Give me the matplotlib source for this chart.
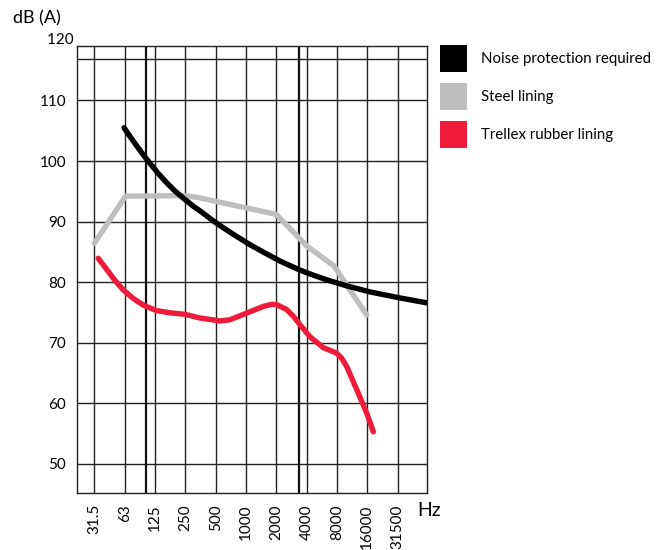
import matplotlib
matplotlib.use('Agg')
import matplotlib.pyplot as plt
from matplotlib.patches import Patch

plt.rcParams['font.family'] = ['Lato', 'DejaVu Sans']

# Octave band labels (one category per vertical grid line)
freq_labels = ['31.5', '63', '125', '250', '500', '1000', '2000',
               '4000', '8000', '16000', '31500']

# Curves: x is the position along the octave axis
# (0 = 31.5 Hz, 1 = 63 Hz, ...), y is dB (A)
required_x = [0.98, 1.20, 1.40, 1.62, 1.84, 2.10, 2.39, 2.65, 2.93, 3.25,
              3.59, 3.90, 4.25, 4.65, 5.13, 5.60, 6.12, 6.78, 7.20, 7.66,
              8.32, 9.09, 10.08, 10.96]
required_db = [105.5, 103.9, 102.5, 101.0, 99.6, 98.0, 96.4, 95.1, 93.9, 92.6,
               91.4, 90.2, 89.0, 87.7, 86.2, 84.9, 83.5, 82.0, 81.2, 80.4,
               79.4, 78.4, 77.4, 76.6]

steel_x = [0.0, 1.03, 2.95, 3.4, 6.0, 7.0, 7.9, 8.98]
steel_db = [86.4, 94.2, 94.3, 94.0, 91.2, 86.0, 82.7, 74.6]

rubber_x = [0.13, 0.41, 0.68, 0.96, 1.29, 1.62, 2.06, 2.50, 2.99, 3.48,
            4.14, 4.47, 5.02, 5.57, 5.85, 6.01, 6.34, 6.56, 6.78, 7.11,
            7.55, 7.99, 8.15, 8.32, 8.65, 8.98, 9.20]
rubber_db = [83.95, 82.1, 80.3, 78.7, 77.3, 76.2, 75.3, 74.95, 74.7, 74.1,
             73.6, 73.8, 74.9, 76.0, 76.35, 76.3, 75.5, 74.4, 73.0, 71.0,
             69.2, 68.3, 67.5, 66.1, 62.3, 58.4, 55.3]

y_ticks = [50, 60, 70, 80, 90, 100, 110]

fig = plt.figure(figsize=(6.7, 5.5), dpi=100)
ax = fig.add_axes([0.1154, 0.1036, 0.5215, 0.8128])

# grid: one vertical line per band, horizontal every 10 dB
for i in range(len(freq_labels)):
    ax.axvline(i, color='#222222', lw=1.0, zorder=1)
for v in y_ticks:
    ax.axhline(v, color='#222222', lw=1.0, zorder=1)
ax.axhline(116.8, color='#222222', lw=1.0, zorder=1)
# two heavier separators
ax.axvline(1.71, color='#111111', lw=1.6, zorder=1)
ax.axvline(6.76, color='#111111', lw=1.6, zorder=1)

lw = 3.9
ax.plot(steel_x, steel_db, color='#bdbec0', lw=lw, solid_capstyle='round',
        solid_joinstyle='round', zorder=3)
ax.plot(required_x, required_db, color='black', lw=lw, solid_capstyle='round',
        solid_joinstyle='round', zorder=4)
ax.plot(rubber_x, rubber_db, color='#ee1c3a', lw=lw, solid_capstyle='round',
        solid_joinstyle='round', zorder=5)

ax.set_xlim(-0.56, 10.96)
ax.set_ylim(45.2, 119)
ax.set_xticks(range(len(freq_labels)))
ax.set_xticklabels(freq_labels, rotation=90, fontsize=11)
ax.set_yticks(y_ticks)
ax.set_yticklabels([str(v) for v in y_ticks], fontsize=11)
ax.tick_params(length=0, pad=8)
ax.text(-0.56, 120, '120 ', ha='right', va='center', fontsize=11, clip_on=False)
for s in ax.spines.values():
    s.set_color('#222222')
    s.set_linewidth(1.0)

ax.text(0.972, -0.038, 'Hz', transform=ax.transAxes, ha='left', va='center',
        fontsize=14)
fig.text(13 / 670, 1 - 18 / 550, 'dB (A)', ha='left', va='center', fontsize=13)

handles = [Patch(facecolor='black', edgecolor='none', label='Noise protection required'),
           Patch(facecolor='#bdbec0', edgecolor='none', label='Steel lining'),
           Patch(facecolor='#ee1c3a', edgecolor='none', label='Trellex rubber lining')]
fig.legend(handles=handles, loc='upper left', bbox_to_anchor=(440 / 670, 505 / 550),
           frameon=False, fontsize=10.8, handlelength=1.8, handleheight=2.39,
           handletextpad=0.95, labelspacing=0.73, borderpad=0, borderaxespad=0)

fig.savefig('out.png', dpi=100)
